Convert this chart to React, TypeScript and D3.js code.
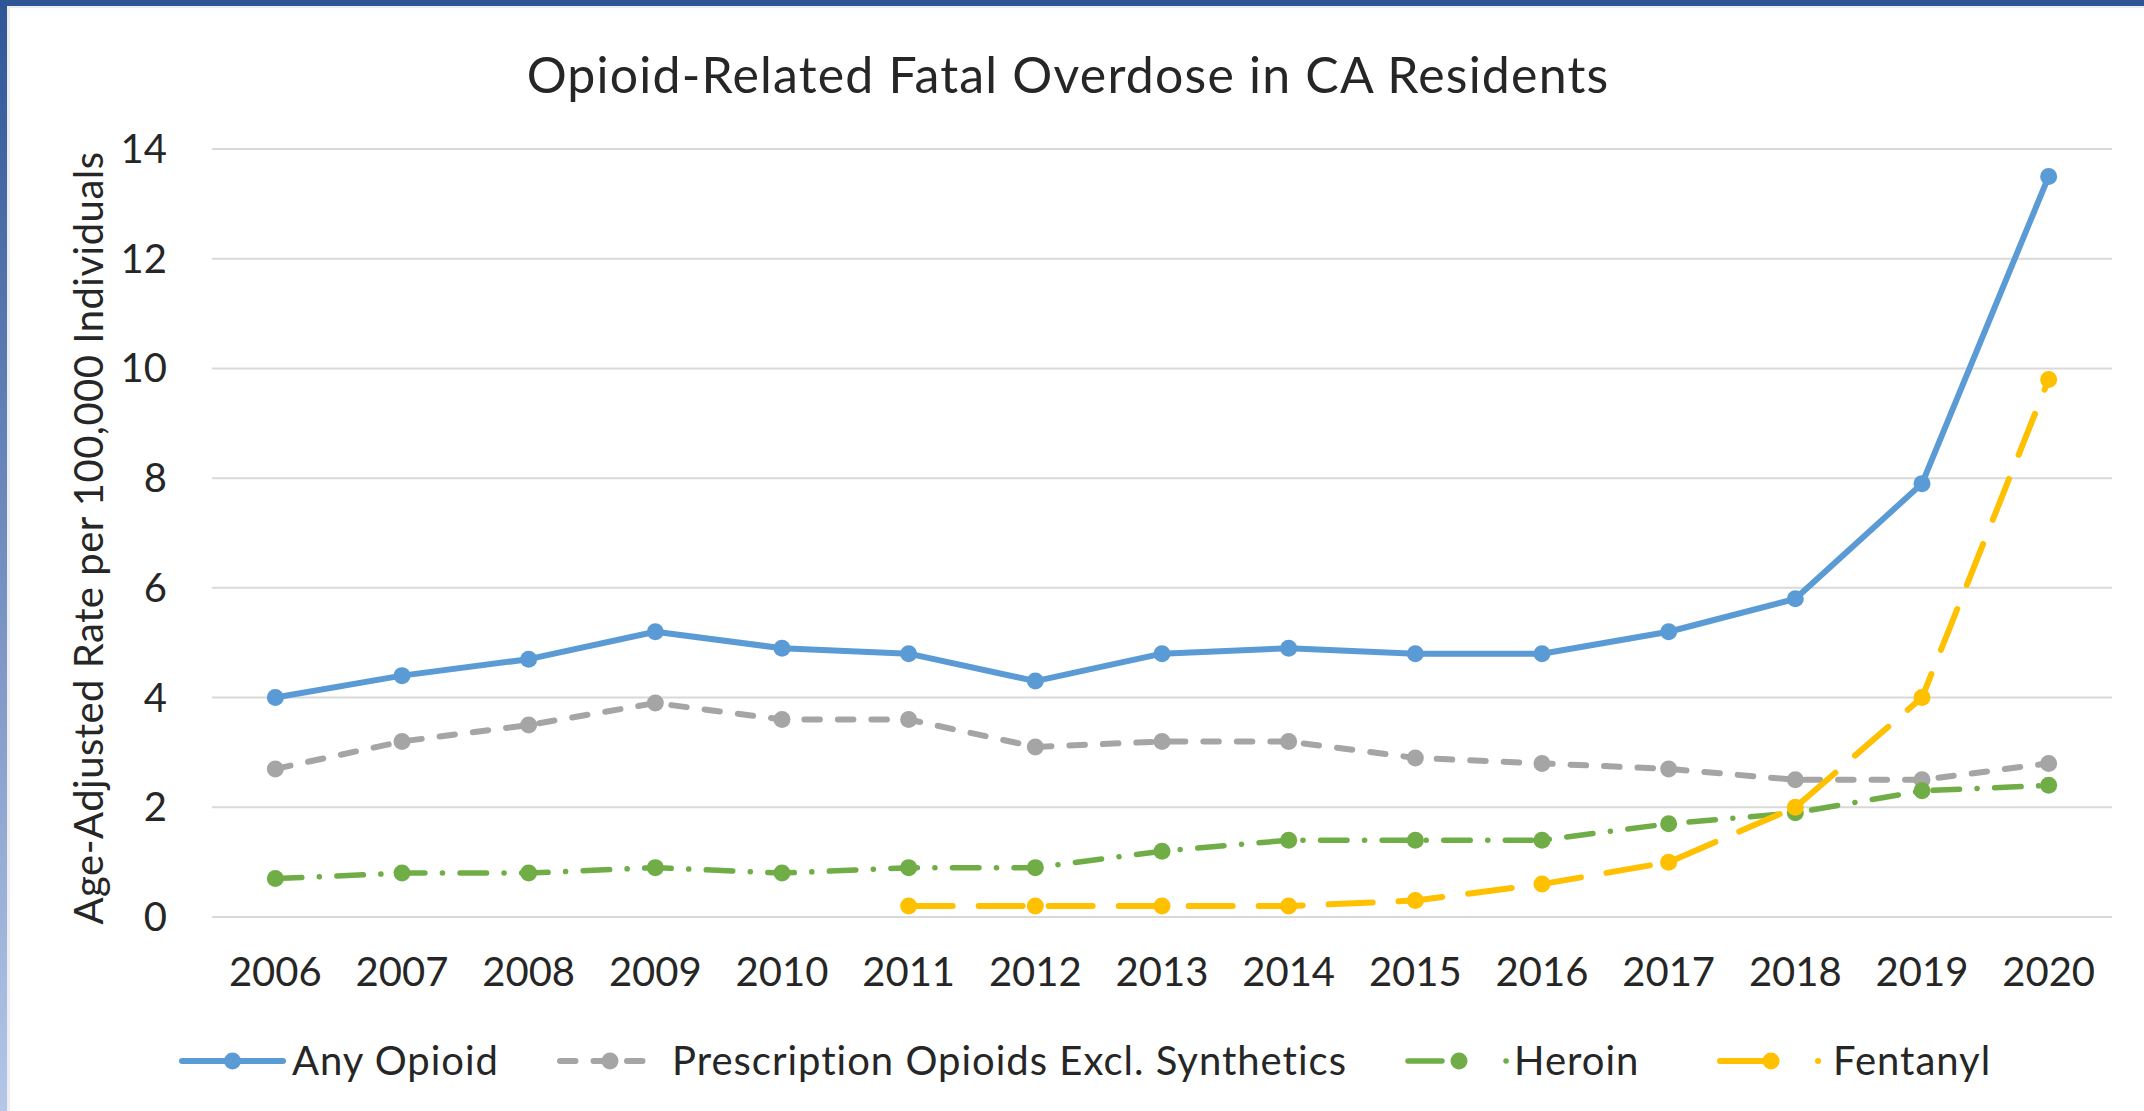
import { useEffect, useRef } from 'react';
import * as d3 from 'd3';

const years = ['2006', '2007', '2008', '2009', '2010', '2011', '2012', '2013', '2014', '2015', '2016', '2017', '2018', '2019', '2020'];
const anyOpioid = [4.0, 4.4, 4.7, 5.2, 4.9, 4.8, 4.3, 4.8, 4.9, 4.8, 4.8, 5.2, 5.8, 7.9, 13.5];
const prescription = [2.7, 3.2, 3.5, 3.9, 3.6, 3.6, 3.1, 3.2, 3.2, 2.9, 2.8, 2.7, 2.5, 2.5, 2.8];
const heroin = [0.7, 0.8, 0.8, 0.9, 0.8, 0.9, 0.9, 1.2, 1.4, 1.4, 1.4, 1.7, 1.9, 2.3, 2.4];
const fentanyl = [null, null, null, null, null, 0.2, 0.2, 0.2, 0.2, 0.3, 0.6, 1.0, 2.0, 4.0, 9.8];
const yTicks = [0, 2, 4, 6, 8, 10, 12, 14];

const seriesNames = ['Any Opioid', 'Prescription Opioids Excl. Synthetics', 'Heroin', 'Fentanyl'];
const seriesValues = [anyOpioid, prescription, heroin, fentanyl];

const FONT = 'Lato, "Open Sans", sans-serif';

function OverdoseChart() {
    const svgRef = useRef<SVGSVGElement>(null);

    useEffect(() => {
        if (!svgRef.current) return;
        const svg = d3.select(svgRef.current);
        svg.selectAll('*').remove();

        const width = 2144;
        const height = 1111;

        // styles per series (round caps, so dashes are drawn a bit shorter)
        const styles = [
            { color: '#5B9BD5', dash: null, legendDash: null, w: 6 },
            { color: '#A5A5A5', dash: '15.5,18', legendDash: '15.5,18', w: 6 },
            { color: '#70AD47', dash: '26.5,17.5,0.1,17.5', legendDash: '34,64,0.1,200', w: 5.5 },
            { color: '#FFC000', dash: '44,26', legendDash: '54,44,0.1,200', w: 6 },
        ];

        // background + slide border
        svg.append('rect').attr('width', width).attr('height', height).attr('fill', '#ffffff');
        const grad = svg.append('defs').append('linearGradient')
            .attr('id', 'leftEdge').attr('x1', 0).attr('y1', 0).attr('x2', 0).attr('y2', 1);
        grad.append('stop').attr('offset', '0%').attr('stop-color', '#2F5597');
        grad.append('stop').attr('offset', '100%').attr('stop-color', '#B4C7E7');
        svg.append('rect').attr('x', 0).attr('y', 0).attr('width', 7).attr('height', height).attr('fill', 'url(#leftEdge)');
        svg.append('rect').attr('x', 7).attr('y', 6).attr('width', 3).attr('height', height).attr('fill', '#EDEDED');
        svg.append('rect').attr('x', 0).attr('y', 0).attr('width', width).attr('height', 6).attr('fill', '#2F5597');
        svg.append('rect').attr('x', 7).attr('y', 6).attr('width', width).attr('height', 2).attr('fill', '#EDEDED');

        const x = d3.scaleBand().domain(years).range([212, 2112]).padding(0);
        const y = d3.scaleLinear().domain([0, 14]).range([917, 149]);
        const cx = (yr: string) => (x(yr) as number) + x.bandwidth() / 2;

        // gridlines
        svg.append('g').selectAll('line').data(yTicks).join('line')
            .attr('x1', 212).attr('x2', 2112)
            .attr('y1', d => y(d)).attr('y2', d => y(d))
            .attr('stroke', '#D9D9D9').attr('stroke-width', 2);

        // y tick labels
        svg.append('g').selectAll('text').data(yTicks).join('text')
            .attr('x', 167).attr('y', d => y(d))
            .attr('dy', '0.35em')
            .attr('text-anchor', 'end')
            .attr('font-family', FONT).attr('font-size', 40).attr('fill', '#262626')
            .text(d => d);

        // x labels
        svg.append('g').selectAll('text').data(years).join('text')
            .attr('x', d => cx(d)).attr('y', 972)
            .attr('dy', '0.35em')
            .attr('text-anchor', 'middle')
            .attr('font-family', FONT).attr('font-size', 40).attr('fill', '#262626')
            .text(d => d);

        // title
        svg.append('text')
            .attr('x', 1068).attr('y', 93)
            .attr('text-anchor', 'middle')
            .attr('font-family', FONT).attr('font-size', 50).attr('letter-spacing', 1.2).attr('fill', '#262626')
            .text('Opioid-Related Fatal Overdose in CA Residents');

        // y axis title
        svg.append('text')
            .attr('transform', 'translate(89,538) rotate(-90)')
            .attr('dy', '0.35em')
            .attr('text-anchor', 'middle')
            .attr('font-family', FONT).attr('font-size', 40).attr('letter-spacing', 0.5).attr('fill', '#262626')
            .text('Age-Adjusted Rate per 100,000 Individuals');

        // lines + markers
        seriesValues.forEach((vals, i) => {
            const st = styles[i];
            const pts = years.map((yr, j) => ({ yr, v: vals[j] })).filter(p => p.v != null);
            const line = d3.line<{ yr: string; v: number | null }>()
                .x(p => cx(p.yr))
                .y(p => y(p.v as number));
            svg.append('path')
                .attr('d', line(pts))
                .attr('fill', 'none')
                .attr('stroke', st.color)
                .attr('stroke-width', st.w)
                .attr('stroke-linejoin', 'round')
                .attr('stroke-linecap', 'round')
                .attr('stroke-dasharray', st.dash);
            svg.append('g').selectAll('circle').data(pts).join('circle')
                .attr('cx', p => cx(p.yr))
                .attr('cy', p => y(p.v as number))
                .attr('r', 8.5)
                .attr('fill', st.color);
        });

        // legend
        const legendY = 1061;
        const legendItems = [
            { lineX: 182, lineW: 101, textX: 292 },
            { lineX: 560, lineW: 100, textX: 672 },
            { lineX: 1408, lineW: 102, textX: 1514 },
            { lineX: 1720, lineW: 102, textX: 1833 },
        ];
        legendItems.forEach((it, i) => {
            const st = styles[i];
            const g = svg.append('g');
            g.append('line')
                .attr('x1', it.lineX).attr('x2', it.lineX + it.lineW)
                .attr('y1', legendY).attr('y2', legendY)
                .attr('stroke', st.color).attr('stroke-width', st.w)
                .attr('stroke-linecap', 'round')
                .attr('stroke-dasharray', st.legendDash);
            g.append('circle')
                .attr('cx', it.lineX + it.lineW / 2).attr('cy', legendY)
                .attr('r', 8.5).attr('fill', st.color);
            g.append('text')
                .attr('x', it.textX).attr('y', legendY)
                .attr('dy', '0.35em')
                .attr('font-family', FONT).attr('font-size', 40).attr('letter-spacing', 1).attr('fill', '#262626')
                .text(seriesNames[i]);
        });
    }, []);

    return <svg ref={svgRef} width={2144} height={1111} style={{ position: 'absolute', left: 0, top: 0, display: 'block' }}></svg>;
}

export default function App() {
    return <OverdoseChart />;
}
